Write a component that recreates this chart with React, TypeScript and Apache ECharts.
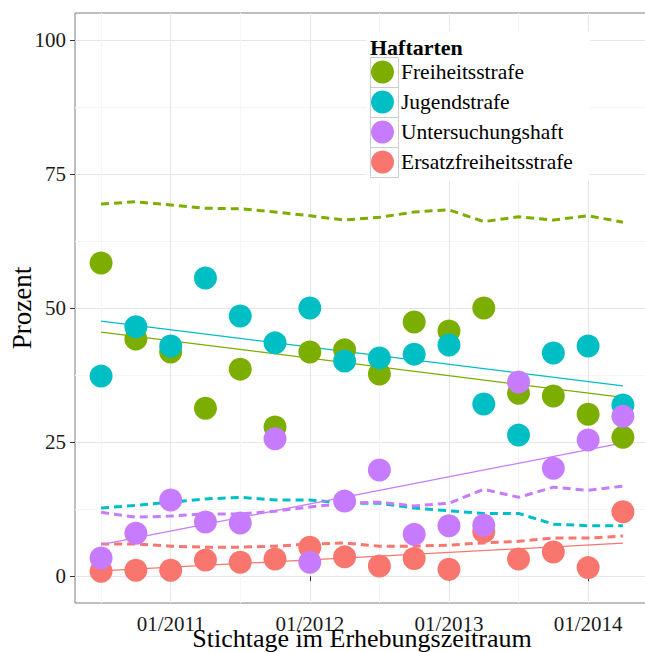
import React, { useEffect, useRef } from 'react';
import * as echarts from 'echarts';

const dates = ['07/2010','10/2010','01/2011','04/2011','07/2011','10/2011','01/2012','04/2012','07/2012','10/2012','01/2013','04/2013','07/2013','10/2013','01/2014','04/2014'];

const freiheitsstrafe = [58.4,44.2,41.8,31.3,38.6,27.8,41.8,42.2,37.7,47.4,45.7,50.0,34.1,33.6,30.2,25.9];
const jugendstrafe = [37.3,46.5,42.9,55.6,48.5,43.5,50.0,40.1,40.7,41.4,43.1,32.1,26.3,41.6,42.9,31.9];
const untersuchungshaft = [3.4,8.0,14.2,10.1,9.9,25.6,2.6,14.0,19.8,7.8,9.4,9.5,36.2,20.1,25.4,29.8];
const ersatzfreiheitsstrafe = [0.9,1.1,1.1,3.0,2.6,3.2,5.4,3.6,1.9,3.3,1.3,8.3,3.2,4.5,1.6,12.0];

const freiheitsstrafeRef = [69.4,69.8,69.2,68.6,68.5,67.9,67.2,66.4,66.9,67.9,68.3,66.1,67.0,66.4,67.2,66.0];
const jugendstrafeRef = [12.7,13.2,13.8,14.4,14.7,14.2,14.2,13.6,13.6,12.7,12.2,11.7,11.7,9.7,9.4,9.4];
const untersuchungshaftRef = [11.9,11.0,11.2,11.6,11.6,12.1,12.9,13.6,13.8,13.1,13.6,16.2,14.7,16.6,16.0,16.8];
const ersatzfreiheitsstrafeRef = [6.0,6.0,5.6,5.4,5.4,5.6,6.0,6.2,5.6,5.6,5.8,6.2,6.5,7.1,7.1,7.5];

const groups = ['Freiheitsstrafe','Jugendstrafe','Untersuchungshaft','Ersatzfreiheitsstrafe'];
const colors = ['#7CAE00','#00BFC4','#C77CFF','#F8766D'];

const yTicks = [0, 25, 50, 75, 100];
const yMinorTicks = [12.5, 37.5, 62.5, 87.5];
const xTickLabels = ['01/2011','01/2012','01/2013','01/2014'];
const xMinorLabels = ['07/2010','07/2011','07/2012','07/2013'];

const xTitle = 'Stichtage im Erhebungszeitraum';
const yTitle = 'Prozent';
const legendTitle = 'Haftarten';

const FONT = 'Liberation Serif';

function monthIndex(s: string): number {
  const [m, y] = s.split('/').map(Number);
  return (y - 2010) * 12 + (m - 1);
}
function monthLabel(v: number): string {
  const r = Math.round(v);
  const y = 2010 + Math.floor(r / 12);
  const m = (r % 12) + 1;
  return (m < 10 ? '0' : '') + m + '/' + y;
}

export default function App() {
  const ref = useRef<HTMLDivElement>(null);
  useEffect(() => {
    if (!ref.current) return;
    const chart = echarts.init(ref.current, undefined, { renderer: 'svg' });
    const xs = dates.map(monthIndex);
    const span = xs[xs.length - 1] - xs[0];
    const xMin = xs[0] - 0.05 * span;
    const xMax = xs[xs.length - 1] + 0.05 * span;

    const values = [freiheitsstrafe, jugendstrafe, untersuchungshaft, ersatzfreiheitsstrafe];
    const refs = [freiheitsstrafeRef, jugendstrafeRef, untersuchungshaftRef, ersatzfreiheitsstrafeRef];

    const fit = (ys: number[]) => {
      const n = xs.length;
      const mx = xs.reduce((a, b) => a + b, 0) / n;
      const my = ys.reduce((a, b) => a + b, 0) / n;
      let sxy = 0, sxx = 0;
      for (let i = 0; i < n; i++) { sxy += (xs[i] - mx) * (ys[i] - my); sxx += (xs[i] - mx) ** 2; }
      const b = sxy / sxx;
      const a = my - b * mx;
      return [[xs[0], a + b * xs[0]], [xs[n - 1], a + b * xs[n - 1]]];
    };

    const series: any[] = [];
    groups.forEach((g, i) => {
      series.push({
        name: g + ' (Bestand)', type: 'line', data: xs.map((x, j) => [x, refs[i][j]]),
        symbol: 'none', silent: true, z: 2,
        lineStyle: { color: colors[i], width: 3, type: [8, 5] },
      });
    });
    groups.forEach((g, i) => {
      series.push({
        name: g + ' (Trend)', type: 'line', data: fit(values[i]),
        symbol: 'none', silent: true, z: 2,
        lineStyle: { color: colors[i], width: 1.3 },
      });
    });
    // scatter drawn in alphabetical order (ggplot factor order)
    [3, 0, 1, 2].forEach((i) => {
      series.push({
        name: groups[i], type: 'scatter', data: xs.map((x, j) => [x, values[i][j]]),
        symbol: 'circle', symbolSize: 23, z: 3,
        itemStyle: { color: colors[i], opacity: 1 },
      });
    });

    const keyRects = groups.map((g, i) => ({
      type: 'rect', z: 5, silent: true,
      shape: { x: 370.5, y: 57.5 + 30 * i, width: 28, height: 30 },
      style: { fill: 'none', stroke: '#cccccc', lineWidth: 1 },
    }));

    chart.setOption({
      animation: false,
      backgroundColor: '#ffffff',
      grid: { left: 75, top: 13, right: -4, bottom: 49, show: true, borderColor: '#7f7f7f', borderWidth: 1, containLabel: false, outerBoundsMode: 'none' },
      xAxis: [
        {
          type: 'value', min: xMin, max: xMax,
          axisLine: { show: false },
          axisTick: { show: true, length: 5, lineStyle: { color: '#333', width: 1 }, customValues: xTickLabels.map(monthIndex) },
          axisLabel: { show: true, margin: 10, fontFamily: FONT, fontSize: 21, color: '#1a1a1a', customValues: xTickLabels.map(monthIndex), formatter: (v: number) => monthLabel(v) },
          splitLine: { show: true, lineStyle: { color: '#e6e6e6', width: 1 } },
        },
        {
          type: 'value', min: xMin, max: xMax, position: 'bottom',
          axisLine: { show: false },
          axisTick: { show: false, customValues: xMinorLabels.map(monthIndex) },
          axisLabel: { show: false },
          splitLine: { show: true, lineStyle: { color: '#f5f5f5', width: 1 } },
        },
      ],
      yAxis: [
        {
          type: 'value', min: -5, max: 105,
          axisLine: { show: false },
          axisTick: { show: true, length: 5, lineStyle: { color: '#333', width: 1 }, customValues: yTicks },
          axisLabel: { show: true, margin: 9, fontFamily: FONT, fontSize: 21, color: '#1a1a1a', customValues: yTicks },
          splitLine: { show: true, lineStyle: { color: '#e6e6e6', width: 1 } },
        },
        {
          type: 'value', min: -5, max: 105, position: 'left',
          axisLine: { show: false },
          axisTick: { show: false, customValues: yMinorTicks },
          axisLabel: { show: false },
          splitLine: { show: true, lineStyle: { color: '#f5f5f5', width: 1 } },
        },
      ],
      legend: {
        data: groups,
        orient: 'vertical', left: 371, top: 60.5, padding: 0,
        itemGap: 7, itemWidth: 27, itemHeight: 23, icon: 'circle',
        selectedMode: false, z: 4,
        textStyle: { fontFamily: FONT, fontSize: 21.5, color: '#000', lineHeight: 23 },
      },
      graphic: [
        {
          type: 'rect', z: 1, silent: true,
          shape: { x: 366, y: 31, width: 224, height: 150 },
          style: { fill: '#ffffff' },
        },
        ...keyRects,
        {
          type: 'text', z: 5, silent: true, x: 370, y: 47,
          style: { text: legendTitle, fontFamily: FONT, fontSize: 22, fontWeight: 'bold', fill: '#000', verticalAlign: 'middle' },
        },
        {
          type: 'text', z: 5, silent: true, x: 362, y: 638.5,
          style: { text: xTitle, fontFamily: FONT, fontSize: 26, fill: '#000', align: 'center', verticalAlign: 'middle' },
        },
        {
          type: 'text', z: 5, silent: true, x: 22, y: 308, rotation: Math.PI / 2,
          style: { text: yTitle, fontFamily: FONT, fontSize: 27, fill: '#000', align: 'center', verticalAlign: 'middle' },
        },
      ],
      series,
    });
    return () => chart.dispose();
  }, []);
  return <div ref={ref} style={{ position: 'fixed', left: 0, top: 0, width: 645, height: 652 }} />;
}
